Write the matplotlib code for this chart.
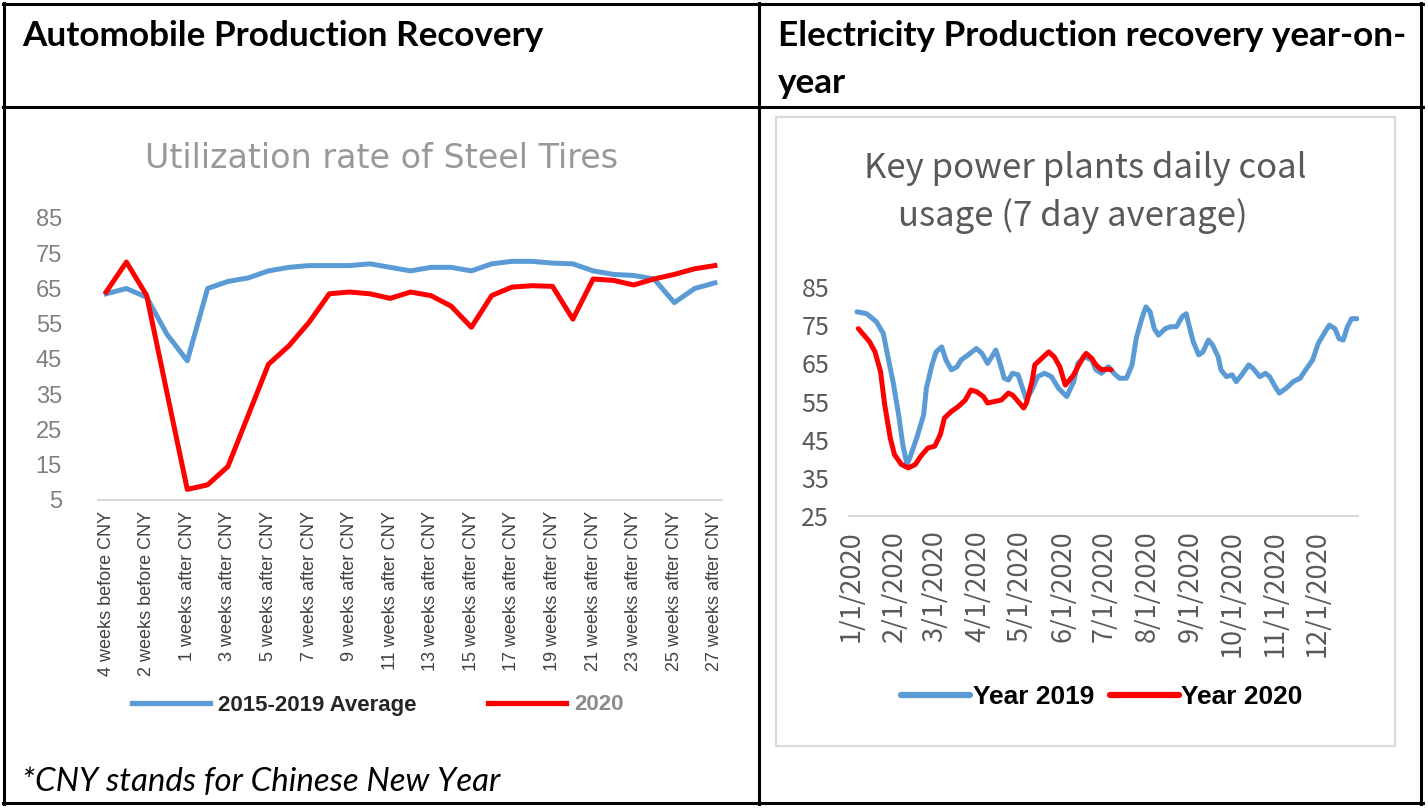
import numpy as np
import matplotlib
matplotlib.use('Agg')
import matplotlib.pyplot as plt
from matplotlib.lines import Line2D
from matplotlib.patches import Rectangle

W, H = 1428, 810

# -1- Steel tires utilization, weeks around Chinese New Year
weeks = (["4 weeks before CNY", "3 weeks before CNY", "2 weeks before CNY", "1 weeks before CNY"]
         + ["%d weeks after CNY" % k for k in range(1, 28)])
tires_avg = [63.5, 65, 62.5, 52, 44.5, 65, 67, 68, 70, 71, 71.5, 71.5, 71.5, 72, 71, 70,
             71, 71, 70, 72, 72.7, 72.7, 72.2, 72, 70, 69, 68.7, 67.7, 61, 65, 66.6]
tires_2020 = [64, 72.5, 63, 35.4, 8, 9.3, 14.5, 29, 43.5, 48.7, 55.4, 63.5, 64, 63.5, 62.2, 64,
              63, 60, 54, 63, 65.4, 65.8, 65.6, 56.3, 67.7, 67.3, 66, 67.7, 69, 70.6, 71.5]

# -2- Key power plants daily coal usage (days counted from 1/1/2020)
coal_days_2019 = [4, 11, 18, 23, 26, 30, 34, 37, 40, 42, 47, 52, 54, 58, 61, 65, 68, 72, 76, 79,
                  84, 90, 94, 98, 101, 104, 107, 110, 113, 116, 120, 124, 126, 131, 134, 139, 144,
                  149, 155, 160, 163, 168, 173, 176, 180, 185, 190, 193, 198, 202, 205, 209, 212,
                  215, 218, 221, 226, 230, 234, 238, 241, 243, 246, 250, 253, 257, 260, 264, 266,
                  270, 274, 277, 281, 286, 289, 294, 298, 301, 305, 308, 313, 318, 323, 327, 332,
                  336, 341, 344, 348, 351, 354, 357, 360, 364]
coal_2019 = [78.5, 78, 75.9, 72.8, 67.2, 60.2, 51.5, 43.7, 38.5, 40.2, 45.4, 51.5, 58.5, 64.6,
             68, 69.3, 65.9, 63.3, 64.1, 65.9, 67.2, 68.9, 67.6, 65, 66.7, 68.5, 65, 61.1, 60.6,
             62.4, 62, 57.6, 55.4, 58.9, 61.5, 62.4, 61.5, 58.5, 56.3,
             60.2, 65, 66.7, 65.9, 63.3, 62.4, 64.1, 62, 61.1, 61.1, 64.6, 71.5, 76.7, 79.8,
             78.5, 74.1, 72.4, 74.1, 74.6, 74.6, 77.2, 78, 75, 70.7, 67.2, 68, 71.1, 69.8, 66.7,
             63.3, 61.5, 62, 60.2, 62, 64.6, 63.7, 61.5, 62.4, 61.5, 58.9, 57.2, 58.5, 60.2,
             61.1, 63.3, 65.9, 70.2, 73.3, 75, 74.1, 71.5, 71.1, 74.6, 76.7, 76.7]
coal_days_2020 = [5, 9, 13, 17, 21, 24, 28, 31, 36, 41, 46, 50, 55, 60, 64, 67, 72, 77, 82, 86,
                  90, 95, 98, 103, 108, 113, 116, 120, 124, 126, 130, 132, 137, 142, 146, 150,
                  154, 156, 160, 163, 167, 169, 173, 176, 180, 184, 187]
coal_2020 = [74.1, 72.4, 70.7, 68, 62.8, 54.1, 45.4, 41.1, 38.5, 37.6, 38.5, 40.7, 42.8, 43.3,
             46.3, 50.7, 52.4, 53.7, 55.4, 58, 57.6, 56.3, 54.6, 55, 55.4, 57.2, 56.7, 55, 53.3,
             54.6, 60.2, 64.6, 66.3, 68, 66.7, 64.1, 59.3, 60.2, 62, 64.1, 66.7, 67.6, 66.3,
             64.6, 63.3, 63.5, 63.3]

BLUE = '#5b9bd5'
RED = '#ff0000'
NARROW = ['Liberation Sans Narrow', 'Liberation Sans']


def px(x, y):
    return x / W, 1 - y / H


def add_ax(l, t, r, b):
    return fig.add_axes([l / W, 1 - b / H, (r - l) / W, (b - t) / H])


def hline(x1, x2, y, **kw):
    fig.add_artist(Line2D([x1 / W, x2 / W], [1 - y / H, 1 - y / H], transform=fig.transFigure, **kw))


def vline(x, y1, y2, **kw):
    fig.add_artist(Line2D([x / W, x / W], [1 - y1 / H, 1 - y2 / H], transform=fig.transFigure, **kw))


fig = plt.figure(figsize=(W / 100, H / 100), dpi=100)
fig.patch.set_facecolor('white')

# table frame
for y in (4, 107, 803):
    hline(3, 1423, y, color='black', lw=2.2)
for x in (4, 759, 1421):
    vline(x, 3, 804, color='black', lw=2.2)

fig.text(*px(22, 46), "Automobile Production Recovery", family='Lato', weight='bold',
         fontsize=25.3, va='baseline', ha='left')
fig.text(*px(778, 46), "Electricity Production recovery year-on-", family='Lato', weight='bold',
         fontsize=25.3, va='baseline', ha='left')
fig.text(*px(778, 93), "year", family='Lato', weight='bold', fontsize=25.3, va='baseline', ha='left')
fig.text(*px(22, 791), "*CNY stands for Chinese New Year", family='Lato', style='italic',
         fontsize=23.8, va='baseline', ha='left')

# -3- left chart
ax1 = add_ax(98, 218, 722, 500)
x = np.arange(len(weeks))
ax1.plot(x, tires_avg, color=BLUE, lw=3.6, label='2015-2019 Average', solid_joinstyle='round')
ax1.plot(x, tires_2020, color=RED, lw=3.6, label='2020', solid_joinstyle='round')
ax1.set_xlim(-0.4, 30.35)
ax1.set_ylim(5, 85)
ax1.set_yticks(range(5, 86, 10))
ax1.set_xticks(x[::2], [weeks[i] for i in x[::2]], rotation=90)
for s in ('top', 'right', 'left'):
    ax1.spines[s].set_visible(False)
ax1.spines['bottom'].set_color('#d9d9d9')
ax1.spines['bottom'].set_linewidth(1.5)
ax1.tick_params(length=0)
ax1.tick_params(axis='y', pad=26, labelsize=17, labelcolor='#808080')
ax1.tick_params(axis='x', pad=8, labelsize=13, labelcolor='#404040')
for t in ax1.get_yticklabels() + ax1.get_xticklabels():
    t.set_family('Liberation Sans')
fig.text(*px(382, 159), "Utilization rate of Steel Tires", family='DejaVu Sans', fontsize=24,
         color='#999999', ha='center', va='center')
leg1 = ax1.legend(loc='center', bbox_to_anchor=px(378, 705), bbox_transform=fig.transFigure,
                  ncol=2, frameon=False, handlelength=3.5, handletextpad=0.4, columnspacing=3.2,
                  prop={'family': NARROW, 'weight': 'bold', 'size': 16})
leg1.get_texts()[0].set_color('#262626')
leg1.get_texts()[1].set_color('#8c8c8c')
for h in leg1.get_lines():
    h.set_linewidth(3.8)

# -4- right chart
fig.add_artist(Rectangle(px(776, 746), (1395 - 776) / W, (746 - 117) / H, fill=False,
                         ec='#d9d9d9', lw=1.6, transform=fig.transFigure))
ax2 = add_ax(848.6, 287, 1358.5, 516)
t0 = np.datetime64('2020-01-01')
ax2.plot(t0 + np.array(coal_days_2019), coal_2019, color=BLUE, lw=3.6, label='Year 2019',
         solid_joinstyle='round', solid_capstyle='round')
ax2.plot(t0 + np.array(coal_days_2020), coal_2020, color=RED, lw=3.6, label='Year 2020',
         solid_joinstyle='round', solid_capstyle='round')
months = np.arange('2020-01', '2021-01', dtype='datetime64[M]').astype('datetime64[D]')
ax2.set_xticks(months, ["%d/1/2020" % m for m in range(1, 13)], rotation=90)
ax2.set_xlim(t0 - np.timedelta64(2, 'D'), t0 + np.timedelta64(365, 'D'))
ax2.set_ylim(25, 85)
ax2.set_yticks(range(25, 86, 10))
for s in ('top', 'right', 'left'):
    ax2.spines[s].set_visible(False)
ax2.spines['bottom'].set_color('#d9d9d9')
ax2.spines['bottom'].set_linewidth(1.5)
ax2.tick_params(length=0)
ax2.tick_params(axis='y', pad=14, labelsize=18, labelcolor='#595959')
ax2.tick_params(axis='x', pad=10, labelsize=19.5, labelcolor='#595959')
for t in ax2.get_yticklabels() + ax2.get_xticklabels():
    t.set_family('Noto Sans CJK SC')
fig.text(*px(1085, 168), "Key power plants daily coal", family='Noto Sans CJK SC', fontsize=25,
         color='#595959', ha='center', va='center')
fig.text(*px(1073, 216), "usage (7 day average)", family='Noto Sans CJK SC', fontsize=25,
         color='#595959', ha='center', va='center')
leg2 = ax2.legend(loc='center', bbox_to_anchor=px(1102, 697), bbox_transform=fig.transFigure,
                  ncol=2, frameon=False, handlelength=2.6, handletextpad=0.1, columnspacing=0.6,
                  prop={'family': NARROW, 'weight': 'bold', 'size': 19})
for h in leg2.get_lines():
    h.set_linewidth(4.5)

fig.savefig('out.png', dpi=100, facecolor='white')
